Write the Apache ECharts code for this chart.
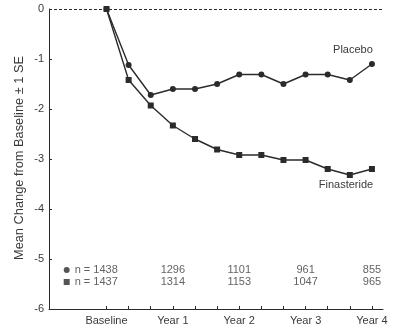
<!DOCTYPE html>
<html>
<head>
<meta charset="utf-8">
<script src="https://cdn.jsdelivr.net/npm/echarts@6/dist/echarts.min.js"></script>
<style>
  html, body { margin: 0; padding: 0; background: #fff; }
  #chart { width: 400px; height: 330px; }
</style>
</head>
<body>
<div id="chart"></div>
<script>
// months since baseline, a point every 4 months
const months = [0, 4, 8, 12, 16, 20, 24, 28, 32, 36, 40, 44, 48]
const placebo = [0, -1.12, -1.72, -1.6, -1.6, -1.5, -1.31, -1.31, -1.5, -1.31, -1.31, -1.42, -1.1]
const finasteride = [0, -1.42, -1.93, -2.33, -2.6, -2.81, -2.92, -2.92, -3.02, -3.02, -3.2, -3.32, -3.2]

const tickMonths = [0, 4, 8, 12, 16, 20, 24, 28, 32, 36, 40, 44, 48]
const labelMonths = [0, 12, 24, 36, 48]
const labelNames = ['Baseline', 'Year 1', 'Year 2', 'Year 3', 'Year 4']

// patients at each year
const nPlacebo = [1438, 1296, 1101, 961, 855]
const nFinasteride = [1437, 1314, 1153, 1047, 965]

const ink = '#2b2b2b'
const textColor = '#3a3a3a'
const font = 'Liberation Sans, Arial, sans-serif'

function pairs(ys) {
  return ys.map((y, i) => [months[i], y])
}

function lastLabel(data, text, pos, offset) {
  const out = data.slice()
  const last = out.length - 1
  out[last] = {
    value: out[last],
    label: { show: true, formatter: text, position: pos, offset: offset, color: textColor, fontSize: 11, fontFamily: font }
  }
  return out
}

function countRow(counts, yVal, symbol) {
  return {
    type: 'scatter',
    silent: true,
    symbol: symbol,
    symbolSize: 0,
    z: 1,
    data: counts.map((n, i) => {
      if (i === 0) {
        return {
          value: [-7.2, yVal],
          symbolSize: 6,
          itemStyle: { color: ink },
          label: { show: true, position: 'right', distance: 5, formatter: 'n = ' + n }
        }
      }
      return { value: [labelMonths[i], yVal], label: { show: true, position: 'inside', formatter: String(n) } }
    }),
    label: { color: textColor, fontSize: 11, fontFamily: font }
  }
}

const chart = echarts.init(document.getElementById('chart'))

const option = {
  animation: false,
  grid: { left: 49, right: 17, top: 9, bottom: 21 },
  xAxis: {
    type: 'value',
    min: -10.4,
    max: 50,
    splitLine: { show: false },
    axisLine: { onZero: false, lineStyle: { color: ink, width: 1 } },
    axisTick: { show: true, inside: true, length: 3, customValues: tickMonths, lineStyle: { color: ink } },
    axisLabel: {
      customValues: labelMonths,
      formatter: v => labelNames[labelMonths.indexOf(v)],
      color: textColor, fontSize: 11, fontFamily: font, margin: 6
    }
  },
  yAxis: {
    type: 'value',
    min: -6,
    max: 0,
    interval: 1,
    splitLine: { show: false },
    axisLine: { show: true, onZero: false, lineStyle: { color: ink, width: 1 } },
    axisTick: { show: true, inside: true, length: 3, lineStyle: { color: ink } },
    axisLabel: { color: textColor, fontSize: 11, fontFamily: font, margin: 5 }
  },
  graphic: [{
    type: 'text',
    x: 19,
    y: 158,
    rotation: Math.PI / 2,
    style: {
      text: 'Mean Change from Baseline \u00b1 1 SE',
      fill: textColor,
      font: '12.8px ' + font,
      align: 'center',
      verticalAlign: 'middle'
    }
  }],
  series: [
    {
      name: 'Placebo',
      type: 'line',
      data: lastLabel(pairs(placebo), 'Placebo', 'top', [-19, -1]),
      symbol: 'circle',
      symbolSize: 6,
      showAllSymbol: true,
      lineStyle: { color: ink, width: 1.4 },
      itemStyle: { color: ink },
      markLine: {
        silent: true,
        symbol: ['none', 'none'],
        label: { show: false },
        lineStyle: { color: ink, type: [3, 2], width: 1 },
        data: [{ yAxis: 0 }]
      }
    },
    {
      name: 'Finasteride',
      type: 'line',
      data: lastLabel(pairs(finasteride), 'Finasteride', 'bottom', [-26, 2]),
      symbol: 'rect',
      symbolSize: 6,
      showAllSymbol: true,
      lineStyle: { color: ink, width: 1.4 },
      itemStyle: { color: ink }
    },
    countRow(nPlacebo, -5.22, 'circle'),
    countRow(nFinasteride, -5.46, 'rect')
  ]
}

chart.setOption(option)
</script>
</body>
</html>
